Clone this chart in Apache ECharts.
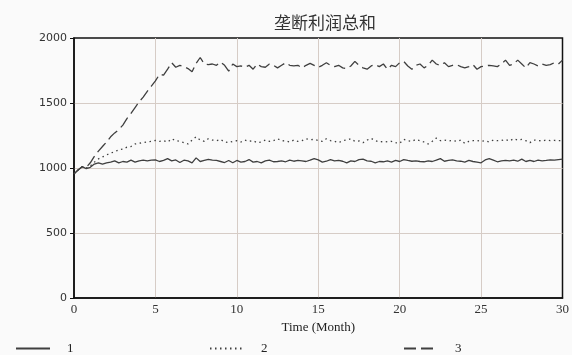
<!DOCTYPE html>
<html>
<head>
<meta charset="utf-8">
<script src="https://cdn.jsdelivr.net/npm/echarts@6/dist/echarts.min.js"></script>
<style>
html,body{margin:0;padding:0;background:#fafafa;}
#chart{width:572px;height:355px;}
</style>
</head>
<body>
<div id="chart"></div>
<script>
const title = '垄断利润总和';
const xName = 'Time (Month)';
const seriesNames = ['1', '2', '3'];
const yTicks = [0, 500, 1000, 1500, 2000];
const xTicks = [0, 5, 10, 15, 20, 25, 30];
// time grid, 0.25 month step (0 .. 30)
const times = Array.from({length: 121}, (_, i) => i * 0.25);

const series1 = [955,985,1010,995,1005,1030,1040,1030,1040,1045,1055,1040,1050,1045,1060,1045,1055,1060,1055,1060,
1062,1050,1058,1072,1055,1062,1042,1060,1055,1040,1078,1050,1058,1066,1060,1058,1050,1042,1058,1040,
1058,1045,1050,1065,1045,1050,1040,1055,1060,1048,1050,1055,1048,1060,1052,1058,1055,1050,1060,1072,
1062,1045,1052,1065,1055,1058,1052,1040,1055,1050,1065,1068,1055,1052,1040,1050,1048,1055,1045,1058,
1050,1065,1058,1052,1055,1050,1048,1055,1050,1060,1072,1052,1058,1062,1055,1052,1045,1058,1050,1045,
1040,1062,1072,1060,1048,1055,1058,1055,1060,1052,1068,1050,1058,1050,1060,1055,1058,1062,1060,1065,1068];

const series2 = [955,985,1010,1000,1015,1045,1070,1085,1100,1115,1125,1140,1145,1160,1165,1185,1190,1195,1200,1205,
1212,1205,1210,1200,1225,1210,1205,1195,1185,1215,1240,1215,1205,1225,1215,1210,1220,1200,1195,1205,
1210,1200,1215,1205,1210,1195,1200,1215,1205,1210,1225,1210,1208,1200,1215,1205,1210,1225,1218,1220,
1212,1205,1225,1210,1205,1195,1210,1215,1225,1205,1208,1195,1215,1228,1210,1200,1205,1200,1205,1195,
1190,1220,1210,1205,1220,1210,1200,1185,1205,1230,1210,1215,1208,1212,1205,1215,1190,1205,1210,1212,
1205,1210,1200,1215,1210,1212,1220,1208,1225,1215,1220,1210,1195,1215,1212,1208,1215,1210,1212,1210,1212];

const series3 = [955,985,1010,1005,1040,1090,1130,1165,1200,1240,1270,1295,1330,1380,1420,1465,1510,1545,1590,1630,
1670,1720,1715,1760,1810,1775,1790,1780,1765,1740,1805,1850,1800,1795,1800,1790,1815,1790,1745,1800,
1780,1785,1775,1790,1760,1800,1780,1775,1800,1790,1770,1790,1810,1790,1785,1790,1770,1790,1805,1790,
1775,1790,1810,1790,1780,1790,1770,1765,1785,1820,1790,1770,1760,1785,1795,1780,1800,1760,1790,1780,
1810,1820,1785,1760,1790,1800,1770,1790,1830,1800,1790,1810,1780,1790,1795,1780,1770,1780,1795,1760,
1780,1785,1790,1785,1780,1800,1830,1790,1800,1830,1800,1770,1810,1800,1785,1800,1790,1795,1810,1800,1830];

const allSeries = [series1, series2, series3];
const dashTypes = ['solid', [1.5, 3.5], [12, 5]];
const lineColor = '#3f3f3f';
const serif = '"Liberation Serif", "DejaVu Serif", serif';

const chart = echarts.init(document.getElementById('chart'), null, {renderer: 'canvas'});

const legendLefts = [10, 204, 398];

const option = {
  backgroundColor: '#fafafa',
  animation: false,
  title: {
    text: title,
    left: 320,
    textAlign: 'center',
    top: 9,
    textStyle: {fontFamily: '"Noto Sans CJK SC", sans-serif', fontSize: 17, fontWeight: 'normal', color: '#333'}
  },
  legend: seriesNames.map((n, i) => ({
    data: [n],
    left: legendLefts[i],
    top: 337,
    itemWidth: 34,
    itemHeight: 10,
    itemStyle: {color: 'rgba(0,0,0,0)', borderColor: 'rgba(0,0,0,0)', borderWidth: 0},
    textStyle: {fontFamily: serif, fontSize: 13, color: '#222', padding: [0, 0, 0, 12]}
  })),
  grid: {
    left: 74, right: 6, top: 38, bottom: 57,
    show: true, borderColor: '#111', borderWidth: 1.5, backgroundColor: 'transparent'
  },
  xAxis: {
    type: 'value',
    min: xTicks[0], max: xTicks[xTicks.length - 1], interval: 5,
    name: xName,
    nameLocation: 'middle',
    nameGap: 22,
    nameTextStyle: {fontFamily: serif, fontSize: 13, color: '#222'},
    axisLine: {show: true, lineStyle: {color: '#111', width: 1.5}},
    axisTick: {show: false},
    axisLabel: {fontFamily: serif, fontSize: 13, color: '#333', margin: 5},
    splitLine: {show: true, showMinLine: false, showMaxLine: false, lineStyle: {color: '#d6ccc6', width: 1}}
  },
  yAxis: {
    type: 'value',
    min: yTicks[0], max: yTicks[yTicks.length - 1], interval: 500,
    axisLine: {show: true, lineStyle: {color: '#111', width: 1.5}},
    axisTick: {show: true, length: 4, lineStyle: {color: '#111'}},
    axisLabel: {fontFamily: 'DejaVu Sans', fontSize: 11, color: '#333', margin: 7,
      formatter: v => String(v)},
    splitLine: {show: true, showMinLine: false, showMaxLine: false, lineStyle: {color: '#d6ccc6', width: 1}}
  },
  series: allSeries.map((vals, i) => ({
    name: seriesNames[i],
    type: 'line',
    symbol: 'none',
    showSymbol: false,
    data: vals.map((v, k) => [times[k], v]),
    lineStyle: {color: lineColor, width: 1.3, type: dashTypes[i]},
    itemStyle: {color: lineColor},
    z: 3 - i
  }))
};
chart.setOption(option);
</script>
</body>
</html>
